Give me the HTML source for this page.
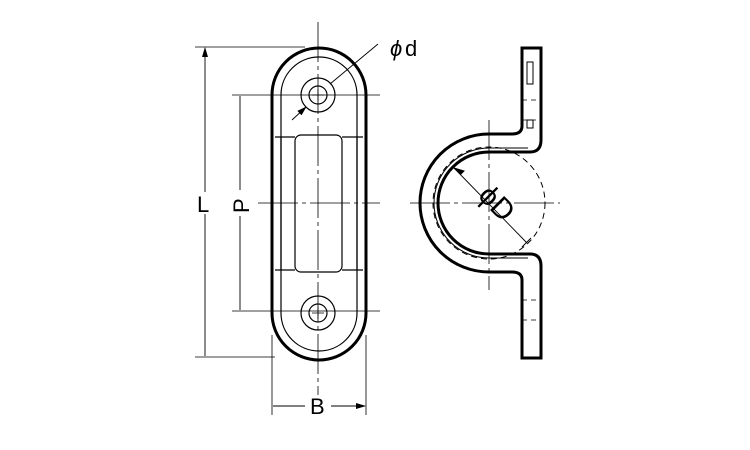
<html><body style="margin:0;background:#fff">
<svg width="750" height="450" xmlns="http://www.w3.org/2000/svg" style="display:block;font-family:'Liberation Sans',sans-serif">
<defs><marker id="a" markerWidth="10" markerHeight="8" refX="9" refY="4" orient="auto-start-reverse" markerUnits="userSpaceOnUse"><path d="M0,1 L10,4 L0,7z" fill="#000"/></marker></defs>
<rect width="750" height="450" fill="#fff"/>
<g fill="none" stroke="#000">
<rect x="272" y="48" width="94" height="312" rx="47" stroke-width="3"/>
<rect x="281" y="57" width="76" height="294" rx="38" stroke-width="1.2"/>
<circle cx="318" cy="95" r="17" stroke-width="1.2"/><circle cx="318" cy="95" r="9" stroke-width="1.2"/>
<circle cx="318" cy="313" r="17" stroke-width="1.2"/><circle cx="318" cy="313" r="9" stroke-width="1.2"/>
<rect x="295" y="135" width="47" height="137" rx="6" stroke-width="1.2"/>
<path d="M275 137H295M342 137H363M275 270H295M342 270H363M281 137V270M357 137V270" stroke-width="1.2"/>
<path d="M318 22V410M258 203H380" stroke-width="0.8" stroke-dasharray="40 4 4 4"/>
<path d="M312 95h12M318 89v12M312 313h12M318 307v12" stroke-width="0.8"/>
<path d="M232 95H380M232 311H380M195 47H305M195 357H275M272 335V415M366 335V415" stroke-width="0.8"/>
<path d="M205 48V356M240 96V310M273 406H365" stroke-width="0.9" marker-start="url(#a)" marker-end="url(#a)"/>
<path d="M378 44L330 84M292 120L306 107" stroke-width="0.9" marker-end="url(#a)"/>
<path d="M522 48H541V140Q541 152 530 152H489A51 51 0 0 0 489 254H530Q541 254 541 266V358H522V280Q522 272 512 272H489A69 69 0 0 1 489 134H512Q522 134 522 126Z" stroke-width="3"/>
<path d="M489 148A55 55 0 0 0 489 258M489 148H528M489 258H528" stroke-width="1"/>
<path d="M527 62H533V84H527ZM527 120H533V128H527Z" stroke-width="1"/>
<path d="M522 100H541M522 120H541M522 300H541M522 320H541" stroke-width="0.8" stroke-dasharray="5 4"/>
<circle cx="489" cy="203" r="56" stroke-width="1" stroke-dasharray="6 4"/>
<path d="M489 120V290M410 203H560" stroke-width="0.8" stroke-dasharray="40 4 4 4"/>
<path d="M454 168L527 243M522 247L531 238" stroke-width="0.9"/>
<path d="M454 168l10 3l-3 3z" fill="#000" stroke-width="1"/>
</g>
<g font-size="22" fill="#000">
<text x="390" y="56" font-style="italic">ϕ</text><text x="405" y="56">d</text>
<rect x="195" y="192" width="20" height="22" fill="#fff"/><text x="197" y="212">L</text>
<rect x="228" y="190" width="24" height="26" fill="#fff"/>
<text transform="translate(249,213) rotate(-90)">P</text>
<rect x="305" y="395" width="26" height="22" fill="#fff"/><text x="310" y="414">B</text>
</g>
<text x="0" y="0" font-size="29" fill="#000" text-anchor="middle" transform="translate(490,210) rotate(45)">ϕD</text>
</svg>
</body></html>
